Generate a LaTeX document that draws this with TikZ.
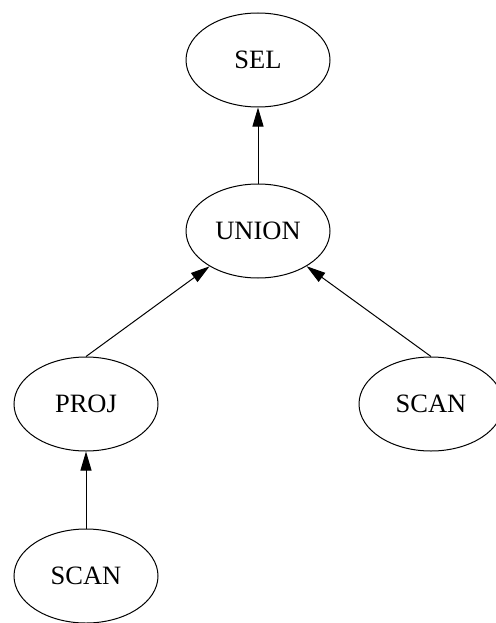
\documentclass[tikz,border=0pt]{standalone}
\usepackage{fontspec}
\setmainfont{Liberation Serif}
\usetikzlibrary{shapes.geometric,arrows.meta}
\begin{document}
\begin{tikzpicture}[x=1pt,y=-1pt,
  opnode/.style={draw, ellipse, line width=1pt, inner sep=0pt,
    minimum width=144pt, minimum height=94pt,
    font=\fontsize{26.5}{30}\selectfont},
  flow/.style={line width=1pt, -{Triangle[length=19pt,width=11pt]}}]
  \useasboundingbox (0,0) rectangle (495,623);
  \node[opnode] (sel)   at (258,60)  {SEL};
  \node[opnode] (union) at (258,231) {UNION};
  \node[opnode] (proj)  at (86,404)  {PROJ};
  \node[opnode] (scanr) at (431,404) {SCAN};
  \node[opnode] (scanb) at (86,576)  {SCAN};
  \draw[flow] (union.north) -- (sel);
  \draw[flow] (proj.north) -- (union);
  \draw[flow] (scanr.north) -- (union);
  \draw[flow] (scanb.north) -- (proj);
\end{tikzpicture}
\end{document}
